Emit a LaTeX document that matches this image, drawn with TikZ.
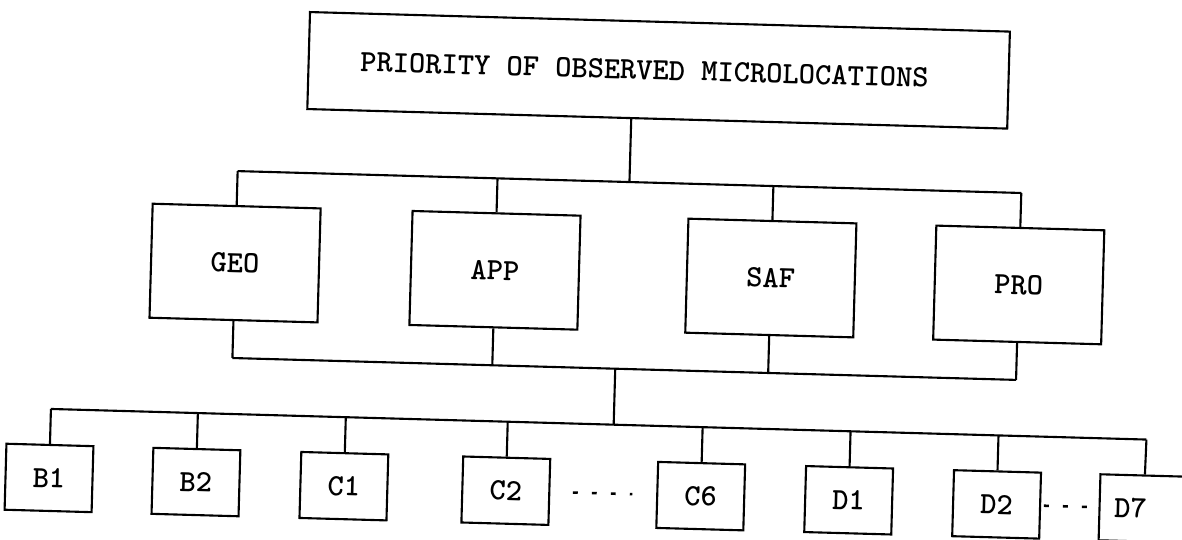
\documentclass[tikz,border=0pt]{standalone}
\usepackage{tikz}
\usetikzlibrary{calc}

\begin{document}
\begin{tikzpicture}[x=0.025cm,y=-0.025cm,
    box/.style={draw,line width=1.5pt,inner sep=0pt,font=\fontsize{22}{26}\selectfont\ttfamily\bfseries},
    headbox/.style={box,minimum width=17.5cm,minimum height=2.425cm},
    critbox/.style={box,minimum width=4.2cm,minimum height=2.85cm},
    leafbox/.style={box,minimum width=2.175cm,minimum height=1.65cm},
    wire/.style={line width=1.5pt},
    gapdash/.style={line width=1.8pt,dash pattern=on 3.5pt off 10pt}]
  \useasboundingbox (0,0) rectangle (1182,539);
  \begin{scope}[rotate around={-1.6:(591,270)},transform shape]
  % title
  \node[headbox] (prio) at (653,68.5) {PRIORITY OF OBSERVED MICROLOCATIONS\hspace*{0.7cm}};
  \coordinate (topjoin) at (627,181);
  \draw[wire] ($(prio.south west)!0.463!(prio.south east)$) -- (topjoin);

  % criteria
  \foreach \n/\x/\t in {geo/235/GEO,app/495/APP,saf/771/SAF,pro/1019/PRO}{
    \node[critbox] (\n) at (\x,273) {\t};
    \coordinate (\n-up) at (\x,181);
    \coordinate (\n-dn) at (\x,368);
    \draw[wire] (\n.north) -- (\n-up);
    \draw[wire] (\n.south) -- (\n-dn);
  }
  \draw[wire] (geo-up) -- (pro-up);
  \draw[wire] (geo-dn) -- (pro-dn);
  \coordinate (midjoin) at (618,368);
  \coordinate (lowjoin) at (618,424);
  \draw[wire] (midjoin) -- (lowjoin);

  % microlocations
  \foreach \n/\x/\t in {b1/55/B1,b2/202/B2,c1/350/C1,c2/512/C2,c6/707/C6,d1/855/D1,d2/1003/D2}{
    \node[leafbox] (\n) at (\x,493) {\t};
    \coordinate (\n-up) at (\x,424);
    \draw[wire] (\n.north) -- (\n-up);
  }
  % D7 runs off the page
  \node[leafbox,minimum width=3.2cm] (d7) at (1170,493) {D7\hspace*{1.65cm}};
  \coordinate (d7-up) at (1151,424);
  \draw[wire] ($(d7.north west)!0.35!(d7.north east)$) -- (d7-up);
  \draw[wire] (b1-up) -- (d7-up);
  \draw[gapdash,shorten <=16pt,shorten >=17pt] (c2) -- (c6);
  \draw[gapdash,shorten <=2pt,shorten >=8pt] (d2) -- (d7.west);
  \end{scope}
\end{tikzpicture}
\end{document}
